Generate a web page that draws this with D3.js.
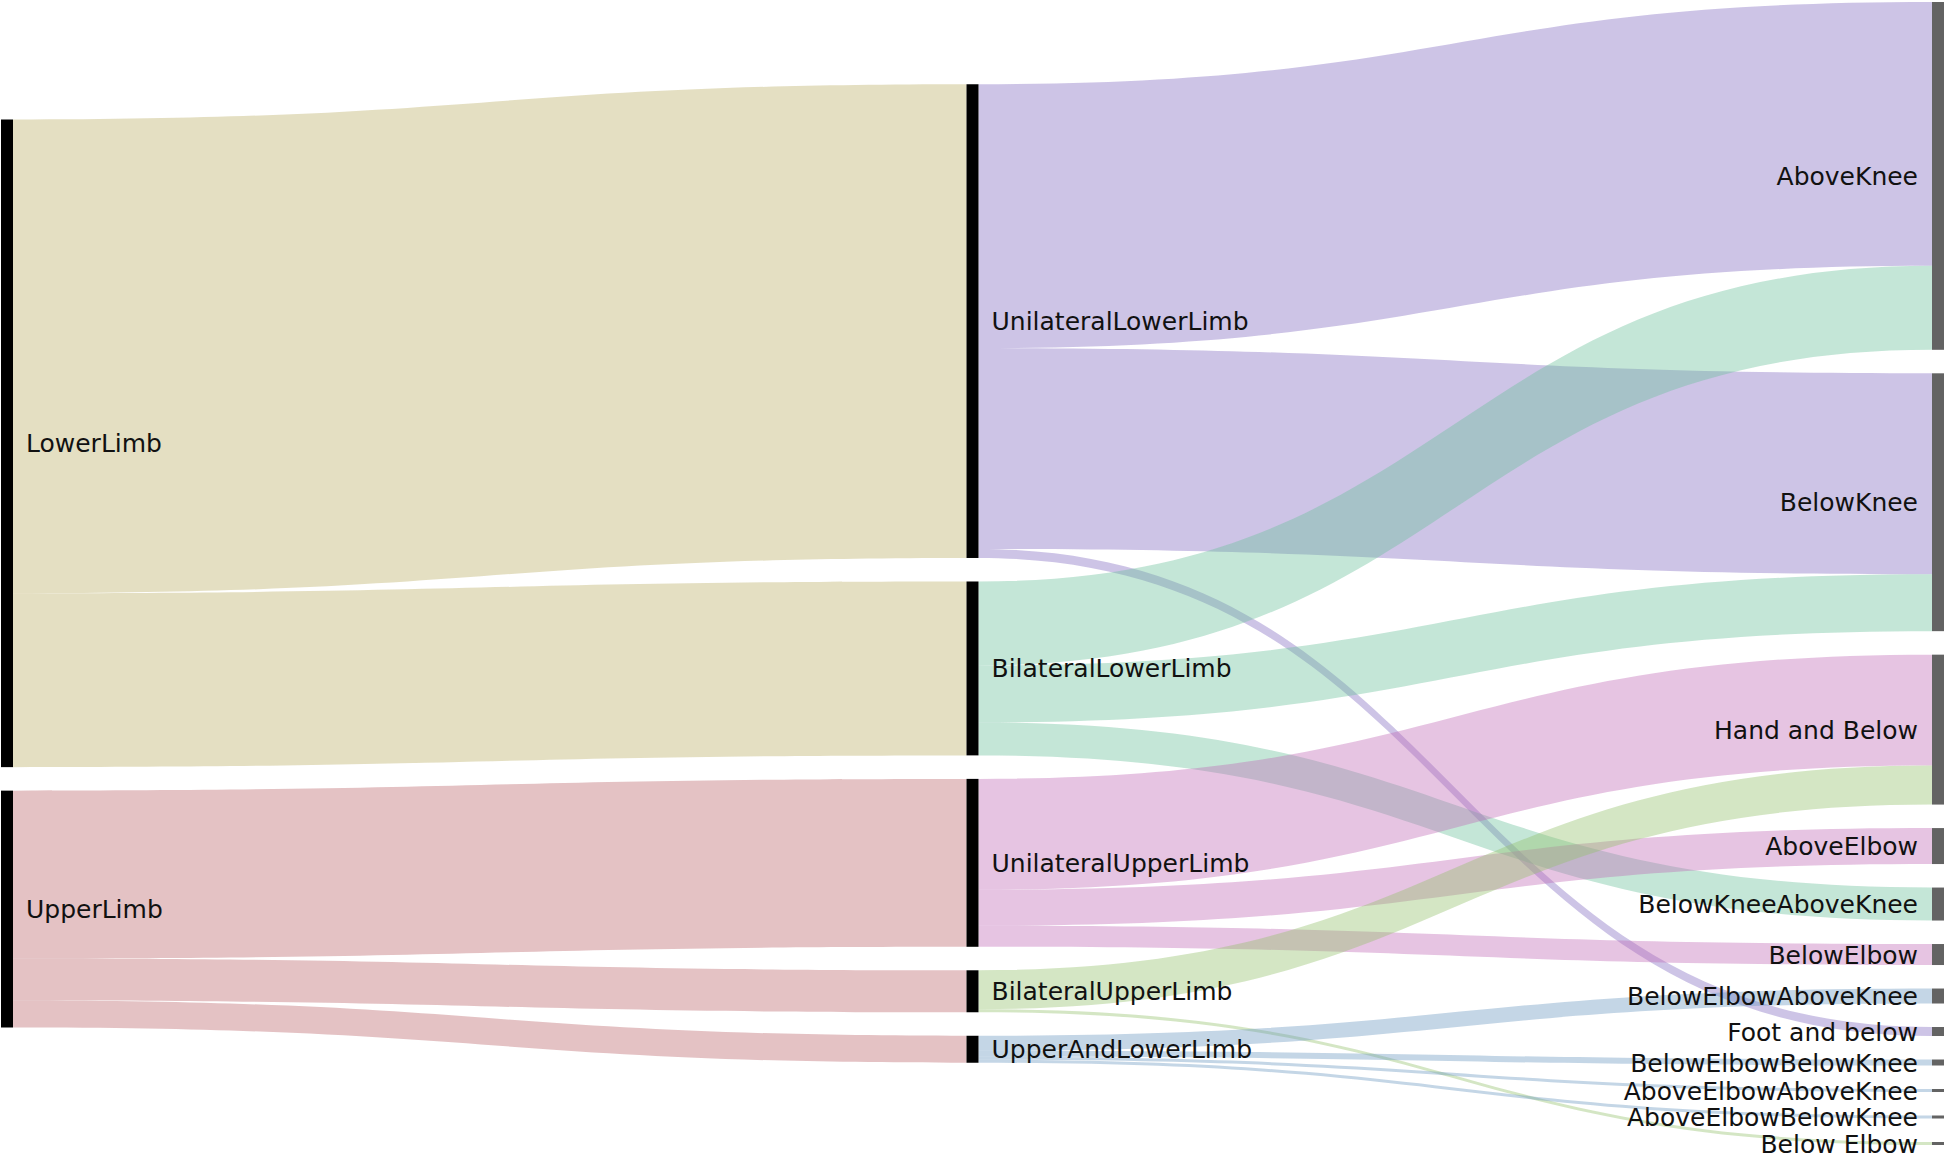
<!DOCTYPE html>
<html>
<head>
<meta charset="utf-8">
<script src="https://cdn.jsdelivr.net/npm/d3@7"></script>
<style>
  body { margin: 0; background: #fff; }
  svg { display: block; }
  .lbl { font-family: "DejaVu Sans", sans-serif; font-size: 25px; fill: #111; }
</style>
</head>
<body>
<div id="chart"></div>
<script>
// columns of the sankey, top to bottom
var stage1 = ["LowerLimb", "UpperLimb"];
var stage2 = ["UnilateralLowerLimb", "BilateralLowerLimb", "UnilateralUpperLimb", "BilateralUpperLimb", "UpperAndLowerLimb"];
var stage3 = ["AboveKnee", "BelowKnee", "Hand and Below", "AboveElbow", "BelowKneeAboveKnee", "BelowElbow",
              "BelowElbowAboveKnee", "Foot and below", "BelowElbowBelowKnee", "AboveElbowAboveKnee",
              "AboveElbowBelowKnee", "Below Elbow"];

// flows
var linkSources = [
  "LowerLimb", "LowerLimb",
  "UpperLimb", "UpperLimb", "UpperLimb",
  "UnilateralLowerLimb", "UnilateralLowerLimb", "UnilateralLowerLimb",
  "BilateralLowerLimb", "BilateralLowerLimb", "BilateralLowerLimb",
  "UnilateralUpperLimb", "UnilateralUpperLimb", "UnilateralUpperLimb",
  "BilateralUpperLimb", "BilateralUpperLimb",
  "UpperAndLowerLimb", "UpperAndLowerLimb", "UpperAndLowerLimb", "UpperAndLowerLimb"
];
var linkTargets = [
  "UnilateralLowerLimb", "BilateralLowerLimb",
  "UnilateralUpperLimb", "BilateralUpperLimb", "UpperAndLowerLimb",
  "AboveKnee", "BelowKnee", "Foot and below",
  "AboveKnee", "BelowKnee", "BelowKneeAboveKnee",
  "Hand and Below", "AboveElbow", "BelowElbow",
  "Hand and Below", "Below Elbow",
  "BelowElbowAboveKnee", "BelowElbowBelowKnee", "AboveElbowAboveKnee", "AboveElbowBelowKnee"
];
var linkValues = [
  158, 58,
  56, 14, 9,
  88, 67, 3,
  28, 19, 11,
  37, 12, 7,
  13, 1,
  5, 2, 1, 1
];

// link colour follows its source node
var linkColor = d3.scaleOrdinal()
  .domain(stage1.concat(stage2))
  .range(["rgb(187,175,102)", "rgb(187,102,107)",
          "rgb(130,107,192)", "rgb(107,192,155)", "rgb(192,107,182)", "rgb(147,192,107)", "rgb(107,152,192)"]);

var W = 1946, H = 1155;
var nodeWidth = 12, pad = 23.5, yTop = 2, yBottom = 1145;

var columns = [stage1, stage2, stage3];
var nodes = {};
columns.forEach(function (col, c) {
  col.forEach(function (name) {
    nodes[name] = { name: name, col: c, sourceLinks: [], targetLinks: [] };
  });
});

var links = linkSources.map(function (s, i) {
  var l = { source: nodes[s], target: nodes[linkTargets[i]], value: linkValues[i] };
  l.source.sourceLinks.push(l);
  l.target.targetLinks.push(l);
  return l;
});

Object.values(nodes).forEach(function (n) {
  n.value = Math.max(d3.sum(n.sourceLinks, function (l) { return l.value; }),
                     d3.sum(n.targetLinks, function (l) { return l.value; }));
});

var colSums = columns.map(function (col) { return d3.sum(col, function (n) { return nodes[n].value; }); });
var maxN = d3.max(columns, function (c) { return c.length; });

var x = d3.scaleLinear().domain([0, columns.length - 1]).range([1, W - 2 - nodeWidth]);
var k = d3.scaleLinear().domain([0, d3.max(colSums)]).range([0, (yBottom - yTop) - (maxN - 1) * pad]);
var center = (yTop + yBottom) / 2;

// stack nodes in each column, every column centred on the same line
columns.forEach(function (col, c) {
  var total = k(colSums[c]) + (col.length - 1) * pad;
  var y = center - total / 2;
  col.forEach(function (name) {
    var n = nodes[name];
    n.x0 = x(c); n.x1 = n.x0 + nodeWidth;
    n.y0 = y; n.y1 = y + k(n.value);
    y = n.y1 + pad;
  });
});

// link offsets inside nodes
Object.values(nodes).forEach(function (n) {
  var sy = n.y0, ty = n.y0;
  n.sourceLinks.sort(function (a, b) { return a.target.y0 - b.target.y0; });
  n.targetLinks.sort(function (a, b) { return a.source.y0 - b.source.y0; });
  n.sourceLinks.forEach(function (l) { l.sy0 = sy; sy += k(l.value); l.sy1 = sy; });
  n.targetLinks.forEach(function (l) { l.ty0 = ty; ty += k(l.value); l.ty1 = ty; });
});

function linkArea(l) {
  var xs = l.source.x1, xt = l.target.x0, xm = (xs + xt) / 2;
  var p = d3.path();
  p.moveTo(xs, l.sy0);
  p.bezierCurveTo(xm, l.sy0, xm, l.ty0, xt, l.ty0);
  p.lineTo(xt, l.ty1);
  p.bezierCurveTo(xm, l.ty1, xm, l.sy1, xs, l.sy1);
  p.closePath();
  return p.toString();
}

var svg = d3.select("#chart").append("svg")
  .attr("width", W)
  .attr("height", H);

svg.append("g")
  .selectAll("path")
  .data(links)
  .enter().append("path")
  .attr("d", linkArea)
  .attr("fill", function (l) { return linkColor(l.source.name); })
  .attr("fill-opacity", 0.4);

var nodeList = Object.values(nodes);

svg.append("g")
  .selectAll("rect")
  .data(nodeList)
  .enter().append("rect")
  .attr("x", function (n) { return n.x0; })
  .attr("y", function (n) { return n.y0; })
  .attr("width", nodeWidth)
  .attr("height", function (n) { return Math.max(1.5, n.y1 - n.y0); })
  .attr("fill", function (n) { return n.col === 2 ? "#636363" : "#000"; });

var last = columns.length - 1;
svg.append("g")
  .selectAll("text")
  .data(nodeList)
  .enter().append("text")
  .attr("class", "lbl")
  .attr("x", function (n) { return n.col === last ? n.x0 - 14 : n.x1 + 13; })
  .attr("y", function (n) { return (n.y0 + n.y1) / 2; })
  .attr("dy", "0.36em")
  .attr("text-anchor", function (n) { return n.col === last ? "end" : "start"; })
  .text(function (n) { return n.name; });
</script>
</body>
</html>
